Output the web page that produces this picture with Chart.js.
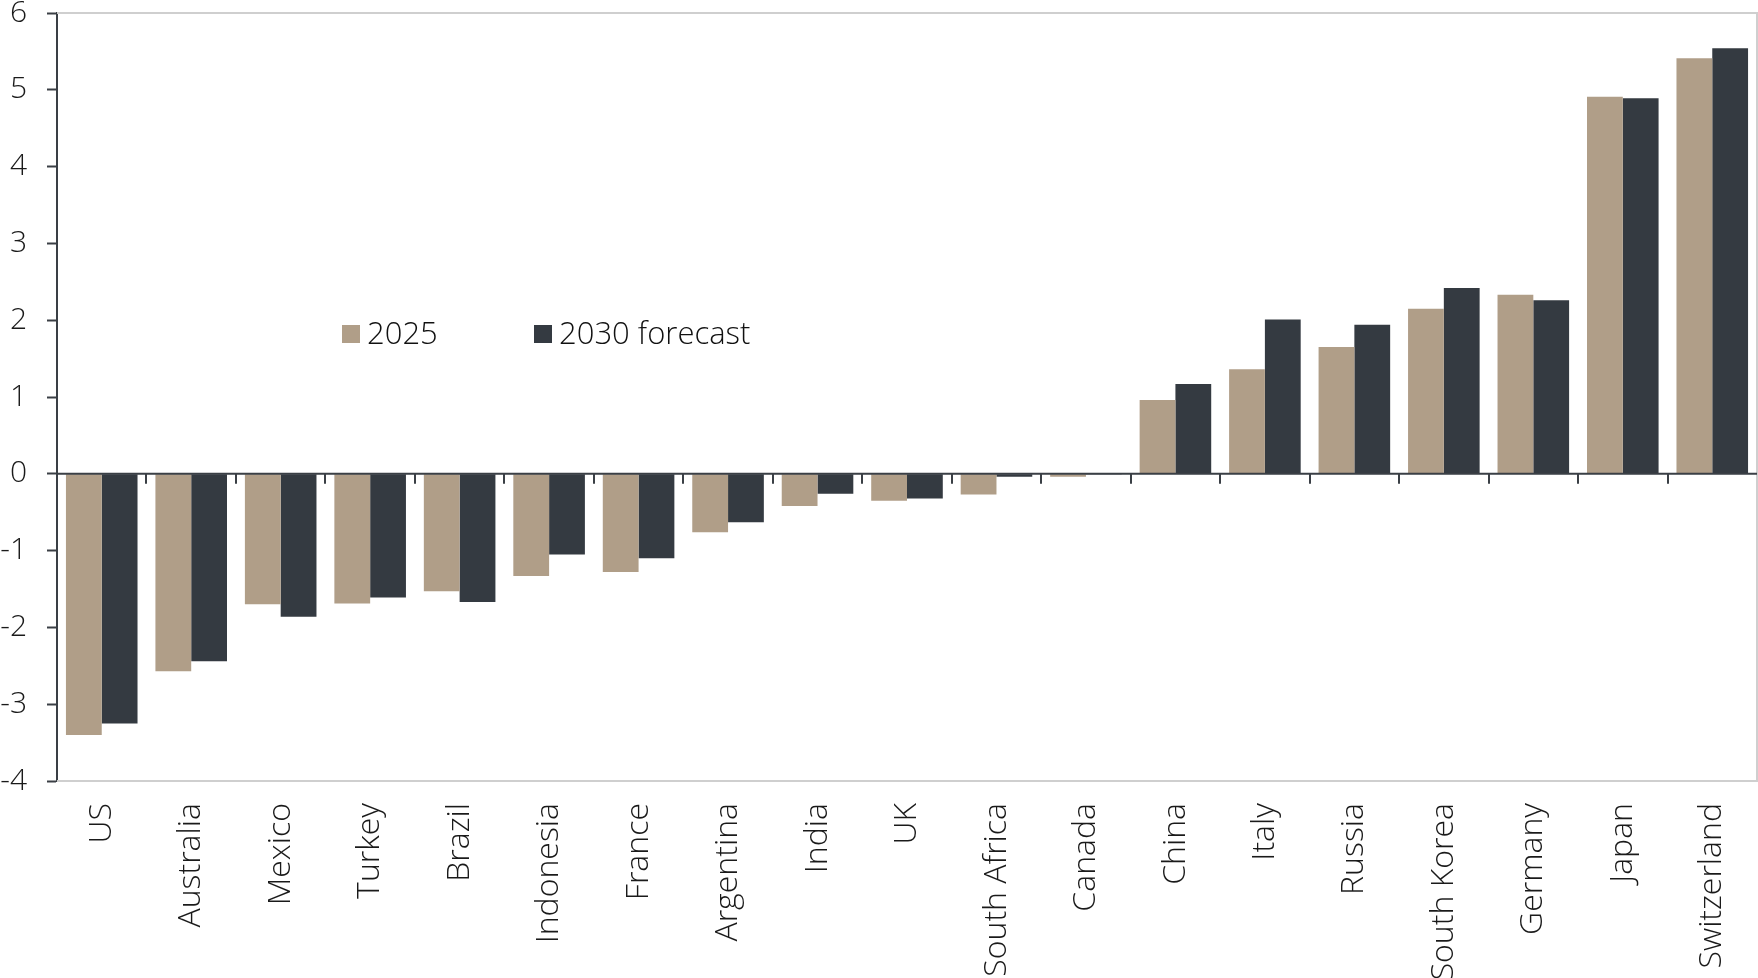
<!DOCTYPE html>
<html>
<head>
<meta charset="utf-8">
<script src="https://cdn.jsdelivr.net/npm/chart.js@4.4.1/dist/chart.umd.min.js"></script>
<style>
  html, body { margin: 0; padding: 0; background: #fff; }
  #wrap { width: 1758px; height: 978px; position: relative; }
</style>
</head>
<body>
<div id="wrap"><canvas id="chart"></canvas></div>
<script>
const countries = ['US', 'Australia', 'Mexico', 'Turkey', 'Brazil', 'Indonesia', 'France',
    'Argentina', 'India', 'UK', 'South Africa', 'Canada', 'China', 'Italy', 'Russia',
    'South Korea', 'Germany', 'Japan', 'Switzerland'];
const values2025 = [-3.40, -2.57, -1.70, -1.69, -1.53, -1.33, -1.28, -0.76, -0.42, -0.35,
    -0.27, -0.04, 0.96, 1.36, 1.65, 2.15, 2.33, 4.91, 5.41];
const values2030 = [-3.25, -2.44, -1.86, -1.61, -1.67, -1.05, -1.10, -0.63, -0.26, -0.32,
    -0.04, -0.01, 1.17, 2.01, 1.94, 2.42, 2.26, 4.89, 5.54];
const seriesNames = ['2025', '2030 forecast'];
const seriesColors = ['#b09e88', '#343a41'];

const FONT = '"Open Sans", "Noto Sans", sans-serif';
const AXIS = '#3a3f45';
const FRAME = '#cfcfcf';

// light frame round the plot, dark zero line with category ticks hanging below it
const framePlugin = {
    id: 'frame',
    beforeDatasetsDraw(chart) {
        const { ctx, chartArea: a } = chart;
        ctx.save();
        ctx.strokeStyle = FRAME;
        ctx.lineWidth = 2;
        ctx.beginPath();
        ctx.moveTo(a.left, a.top);
        ctx.lineTo(a.right, a.top);
        ctx.lineTo(a.right, a.bottom);
        ctx.lineTo(a.left, a.bottom);
        ctx.stroke();
        ctx.restore();
    },
    afterDatasetsDraw(chart) {
        const { ctx, chartArea: a, scales } = chart;
        const y0 = scales.y.getPixelForValue(0);
        ctx.save();
        ctx.strokeStyle = AXIS;
        ctx.lineWidth = 2;
        ctx.beginPath();
        ctx.moveTo(a.left, y0);
        ctx.lineTo(a.right, y0);
        for (let i = 1; i < countries.length; i++) {
            const x = Math.round(scales.x.getPixelForValue(i - 0.5));
            ctx.moveTo(x, y0);
            ctx.lineTo(x, y0 + 10);
        }
        ctx.stroke();
        ctx.restore();
    }
};

// legend sits inside the plot, left of centre
const insideLegend = {
    id: 'insideLegend',
    afterDraw(chart) {
        const { ctx, chartArea: a } = chart;
        const items = chart.data.datasets;
        const xs = [a.left + 285, a.left + 477];
        const cy = a.top + 321;
        ctx.save();
        ctx.font = '300 31px ' + FONT;
        ctx.textBaseline = 'middle';
        items.forEach((ds, i) => {
            ctx.fillStyle = ds.backgroundColor;
            ctx.fillRect(xs[i], cy - 9, 18, 18);
            ctx.fillStyle = '#111';
            ctx.fillText(ds.label, xs[i] + 25, cy + 1);
        });
        ctx.restore();
    }
};

new Chart(document.getElementById('chart'), {
    type: 'bar',
    data: {
        labels: countries,
        datasets: [
            { label: seriesNames[0], data: values2025, backgroundColor: seriesColors[0] },
            { label: seriesNames[1], data: values2030, backgroundColor: seriesColors[1] }
        ]
    },
    options: {
        responsive: true,
        maintainAspectRatio: false,
        animation: false,
        datasets: { bar: { categoryPercentage: 0.8, barPercentage: 1.0 } },
        layout: { padding: { top: 0, right: 1, left: 0, bottom: 0 } },
        plugins: {
            legend: { display: false },
            tooltip: { enabled: false }
        },
        scales: {
            x: {
                grid: { display: false, drawTicks: false },
                border: { display: false },
                ticks: {
                    minRotation: 90,
                    maxRotation: 90,
                    padding: 22,
                    color: '#1a1a1a',
                    font: { family: FONT, size: 32, weight: '300', lineHeight: 1.1 }
                },
                afterFit(scale) {
                    scale.height = 197;
                    scale.paddingLeft = 0;
                    scale.paddingRight = 0;
                }
            },
            y: {
                min: -4,
                max: 6,
                ticks: {
                    stepSize: 1,
                    padding: 20,
                    color: '#1a1a1a',
                    font: { family: FONT, size: 30, weight: '300', lineHeight: 1 }
                },
                grid: {
                    drawOnChartArea: false,
                    drawTicks: true,
                    tickLength: 10,
                    tickColor: AXIS,
                    tickWidth: 2
                },
                border: { display: true, color: AXIS, width: 2 },
                afterFit(scale) {
                    scale.width = 57;
                    scale.paddingTop = 13;
                    scale.paddingBottom = 0;
                }
            }
        }
    },
    plugins: [framePlugin, insideLegend]
});
</script>
</body>
</html>
